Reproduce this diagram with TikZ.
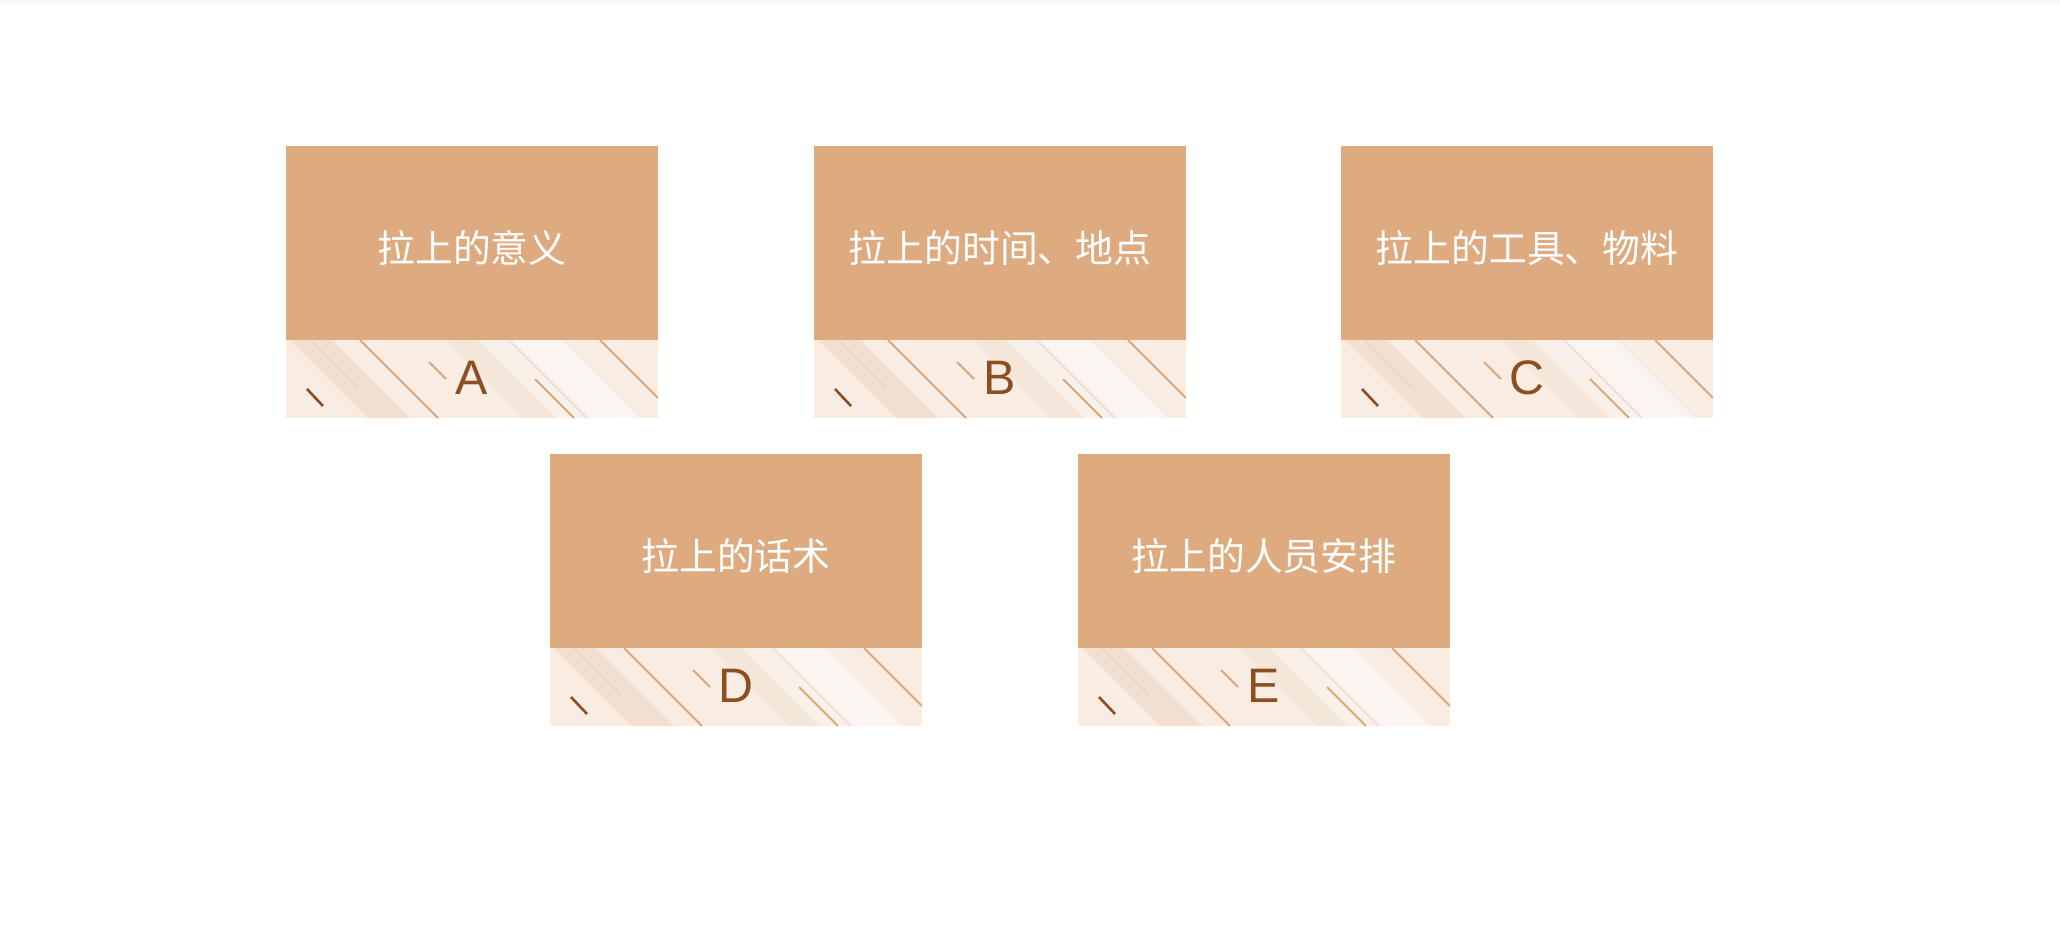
\documentclass[tikz,border=0pt]{standalone}
\usepackage{fontspec}
\setmainfont{Liberation Sans}
\newfontfamily\cjk{Noto Sans CJK SC}
\definecolor{topc}{HTML}{DEAA80}
\definecolor{stripc}{HTML}{F8ECE3}
\definecolor{bandA}{HTML}{F3DFCF}
\definecolor{bandB}{HTML}{F5E6DA}
\definecolor{bandC}{HTML}{F9F0E9}
\definecolor{bandD}{HTML}{FAF5F0}
\definecolor{lineo}{HTML}{DEA67A}
\definecolor{lined}{HTML}{8B4F22}
\definecolor{linef}{HTML}{EED4BF}
\definecolor{linep}{HTML}{F2DDD3}
\definecolor{letterc}{HTML}{8B4F21}
\tikzset{
  titletext/.style={text=white, inner sep=0pt, font=\cjk\fontsize{18.9pt}{22pt}\selectfont},
  lettertext/.style={text=letterc, inner sep=0pt, font=\fontsize{24.2pt}{28pt}\selectfont},
  orangeline/.style={draw=lineo, line width=1pt},
  darkline/.style={draw=lined, line width=1.3pt},
  faintline/.style={draw=linef, line width=0.8pt},
  pinkline/.style={draw=linep, line width=1pt},
}
\newcommand\mycard[5]{%
 \begin{scope}[shift={(#2,#3)}]
  \fill[topc] (0,0) rectangle (372,194);
  \begin{scope}
   \clip (0,194) rectangle (372,272);
   \fill[stripc] (0,194) rectangle (372,272);
   \begin{scope}[shift={(0,194)}]
     \fill[bandA] (4,0) -- (46,0) -- (124,78) -- (82,78) -- cycle;
     \fill[bandB] (160,0) -- (192,0) -- (270,78) -- (238,78) -- cycle;
     \fill[bandC] (192,0) -- (222,0) -- (300,78) -- (270,78) -- cycle;
     \fill[bandD] (222,0) -- (275,0) -- (353,78) -- (300,78) -- cycle;
     \draw[faintline] (24,0) -- (71,47);
     \draw[orangeline] (74,0) -- (152,78);
     \draw[orangeline] (143,22) -- (160,39);
     \draw[darkline] (21,49) -- (37,66);
     \draw[pinkline] (223,0) -- (301,78);
     \draw[orangeline] (249,39) -- (288,78);
     \draw[orangeline] (314,0) -- (372,58);
   \end{scope}
  \end{scope}
  \node[titletext] (#1-title) at (186,102) {#4};
  \node[lettertext] (#1-letter) at (186,232) {#5};
 \end{scope}
}
\begin{document}
\begin{tikzpicture}[x=0.5pt,y=-0.5pt]
\useasboundingbox (0,0) rectangle (2060,926);
\fill[white] (0,0) rectangle (2060,926);
\shade[top color=black!4, bottom color=white] (0,0) rectangle (2060,5);
\mycard{a}{286}{146}{拉上的意义}{A}
\mycard{b}{814}{146}{拉上的时间、地点}{B}
\mycard{c}{1341}{146}{拉上的工具、物料}{C}
\mycard{d}{550}{454}{拉上的话术}{D}
\mycard{e}{1078}{454}{拉上的人员安排}{E}
\end{tikzpicture}
\end{document}
